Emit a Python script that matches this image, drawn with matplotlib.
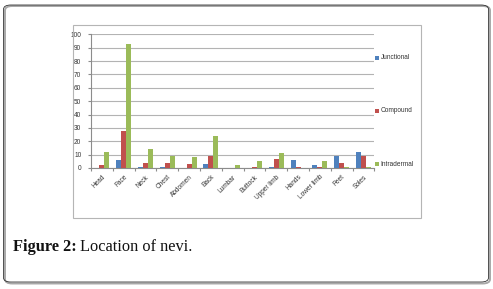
import matplotlib
matplotlib.use("Agg")
import matplotlib.pyplot as plt
import numpy as np
from matplotlib.patches import Rectangle, FancyBboxPatch

# values
sites = ['Head', 'Face', 'Neck', 'Chest', 'Abdomen', 'Back', 'Lumbar', 'Buttock',
         'Upper limb', 'Hands', 'Lower limb', 'Feet', 'Soles']
junctional = [0, 6, 1, 1, 0, 3, 0, 0, 1, 6, 2, 9, 12]
compound = [2, 28, 4, 4, 3, 9, 0, 1, 7, 1, 1, 4, 9]
intradermal = [12, 93, 14, 9, 8, 24, 2, 5, 11, 0, 5, 1, 1]
series_names = ['Junctional', 'Compound', 'Intradermal']
colors = ['#4F81BD', '#C0504D', '#9BBB59']

W, H = 493, 289
fig = plt.figure(figsize=(W / 100, H / 100), dpi=100)

def fx(px):
    return px / W

def fy(py):
    return 1 - py / H

# outer rounded frame with a grey shadow on the right / bottom
shadow = FancyBboxPatch((fx(5), fy(283.5)), fx(485), fy(6) - fy(283.5),
                        boxstyle="round,pad=0,rounding_size=0.015",
                        transform=fig.transFigure, fill=False,
                        edgecolor='#a8a8a8', lw=1.4, zorder=0)
frame = FancyBboxPatch((fx(3.5), fy(282)), fx(485), fy(5) - fy(282),
                       boxstyle="round,pad=0,rounding_size=0.015",
                       transform=fig.transFigure, fill=False,
                       edgecolor='#333333', lw=0.6, zorder=1)
fig.patches.extend([shadow, frame])

# chart area box
fig.patches.append(Rectangle((fx(73), fy(218)), fx(420.7) - fx(73), fy(25) - fy(218),
                             transform=fig.transFigure, fill=False,
                             edgecolor='#b5b5b5', lw=0.8))

ax = fig.add_axes([fx(91), fy(168), fx(374.3) - fx(91), fy(34.3) - fy(168)])
x = np.arange(len(sites))
w = 0.23
for i, vals in enumerate([junctional, compound, intradermal]):
    ax.bar(x + (i - 1) * w, vals, width=w, color=colors[i], zorder=3)

ax.set_xlim(-0.5, len(sites) - 0.5)
ax.set_ylim(0, 100)
ax.set_yticks(range(0, 101, 10))
ax.yaxis.grid(True, color='#b3b3b3', lw=0.8, zorder=0)
ax.set_axisbelow(True)
for s in ['top', 'right']:
    ax.spines[s].set_visible(False)
for s in ['left', 'bottom']:
    ax.spines[s].set_color('#8c8c8c')
    ax.spines[s].set_linewidth(0.8)

lab = dict(family='Liberation Sans', size=4.7, color='#333333')
ax.set_xticks(x)
ax.set_xticklabels(sites, rotation=45, ha='right', rotation_mode='anchor', **lab)
ax.set_xticks(np.arange(-0.5, len(sites)), minor=True)
ax.tick_params(axis='x', which='major', length=0, pad=4)
ax.tick_params(axis='x', which='minor', length=2, color='#8c8c8c', width=0.8)
ax.tick_params(axis='y', length=2, color='#8c8c8c', width=0.8, pad=5)
for t in ax.get_yticklabels():
    t.set_fontfamily('Liberation Sans')
    t.set_fontsize(4.7)
    t.set_color('#333333')

# legend spread down the right side as in the original
for name, c, py in zip(series_names, colors, [57.7, 111, 164]):
    fig.patches.append(Rectangle((fx(375), fy(py + 2)), fx(4), fy(py - 2) - fy(py + 2),
                                 transform=fig.transFigure, color=c, lw=0))
    fig.text(fx(380.5), fy(py), name, va='center', ha='left', **lab)

# caption
t1 = fig.text(fx(13), fy(251), 'Figure 2:', family='Liberation Serif',
              weight='bold', size=11.8, va='baseline', color='#111111')
fig.canvas.draw()
bb = t1.get_window_extent()
fig.text(bb.x1 / W + fx(3.5), fy(251), 'Location of nevi.', family='Liberation Serif',
         size=11.8, va='baseline', color='#111111')

fig.savefig('out.png', dpi=100)
